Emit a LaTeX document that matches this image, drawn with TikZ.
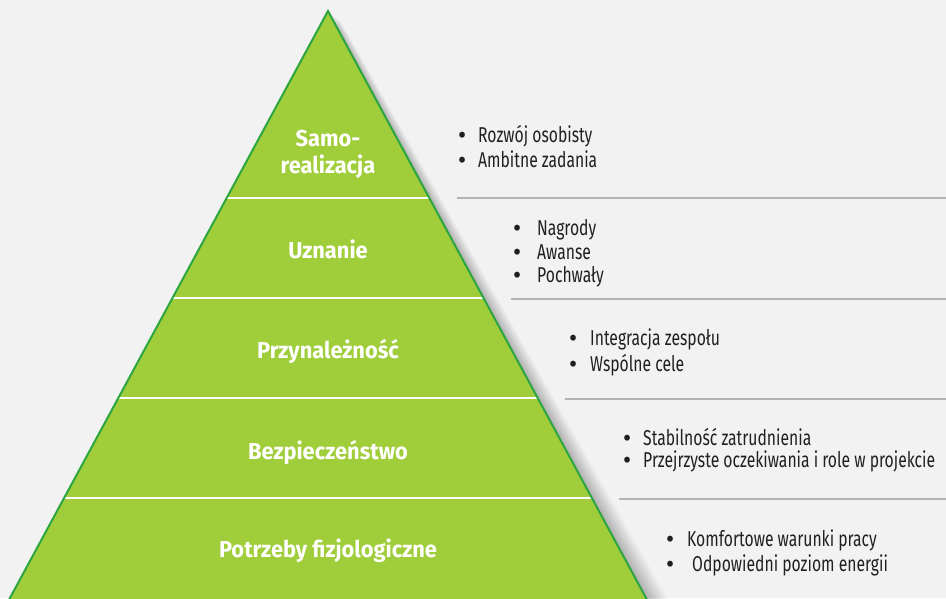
\documentclass[tikz,border=0pt]{standalone}
\usepackage{fontspec}
\usetikzlibrary{calc}
\setmainfont{Fira Sans}
\newfontfamily\itemfont{Fira Sans}[FakeStretch=0.73]
\newfontfamily\labfont{Fira Sans Bold}[FakeStretch=0.95]
\definecolor{bgc}{RGB}{242,242,242}
\definecolor{pyrfill}{RGB}{160,205,58}
\definecolor{pyredge}{RGB}{45,165,65}
\definecolor{txt}{RGB}{35,31,32}
\definecolor{rule}{RGB}{180,180,180}
\newcommand{\bul}{{\labfont •}}
\begin{document}
\begin{tikzpicture}[x=1pt,y=-1pt,
  lab/.style={text=white,font=\labfont\fontsize{23}{26.5}\selectfont,align=center,inner sep=0pt,anchor=base},
  itm/.style={text=txt,font=\itemfont\fontsize{21.5}{21.5}\selectfont,anchor=base west,inner sep=0pt},
  sep/.style={draw=rule,line width=1.5pt}]
\fill[bgc] (0,0) rectangle (946,598);
\useasboundingbox (0,0) rectangle (946,598);
\begin{scope}
\clip (0,0) rectangle (946,598);
% shadow
\foreach \i in {1,...,22}{
  \fill[black,opacity=0.012] ($(328,11)+(\i*0.6,\i*0.5)$) -- ($(-2,620)+(\i,0)$) -- ($(658,620)+(\i,0)$) -- cycle;
}
\fill[pyrfill] (328,11) -- (-2,620) -- (658,620) -- cycle;
\begin{scope}
\clip (328,11) -- (-2,620) -- (658,620) -- cycle;
\foreach \y in {198,298,398,498}{
  \draw[white,line width=2.2pt] (0,\y) -- (946,\y);
}
\end{scope}
\draw[pyredge,line width=2pt,line join=miter] (-2,620) -- (328,11) -- (658,620);
\end{scope}
% separators right
\coordinate (s1a) at (457,198); \coordinate (s1b) at (946,198);
\coordinate (s2a) at (511,299); \coordinate (s2b) at (946,299);
\coordinate (s3a) at (565,399); \coordinate (s3b) at (946,399);
\coordinate (s4a) at (619,499); \coordinate (s4b) at (946,499);
\draw[sep] (s1a) -- (s1b);
\draw[sep] (s2a) -- (s2b);
\draw[sep] (s3a) -- (s3b);
\draw[sep] (s4a) -- (s4b);
% labels
\node[lab] (l1) at (328,173) {Samo-\\realizacja};
\node[lab] (l2) at (328,258) {Uznanie};
\node[lab] (l3) at (328,358) {Przynależność};
\node[lab] (l4) at (328,459) {Bezpieczeństwo};
\node[lab] (l5) at (328,557) {Potrzeby fizjologiczne};
% items
\node[itm] (a1) at (446,142) {\makebox[32pt][c]{\bul}Rozwój osobisty};
\node[itm] (a2) at (446,167) {\makebox[32pt][c]{\bul}Ambitne zadania};
\node[itm] (b1) at (497,235) {\makebox[40pt][c]{\bul}Nagrody};
\node[itm] (b2) at (497,259) {\makebox[40pt][c]{\bul}Awanse};
\node[itm] (b3) at (497,282) {\makebox[40pt][c]{\bul}Pochwały};
\node[itm] (c1) at (556,345) {\makebox[34pt][c]{\bul}Integracja zespołu};
\node[itm] (c2) at (556,371.5) {\makebox[34pt][c]{\bul}Wspólne cele};
\node[itm] (d1) at (611,445) {\makebox[32pt][c]{\bul}Stabilność zatrudnienia};
\node[itm] (d2) at (611,467) {\makebox[32pt][c]{\bul}Przejrzyste oczekiwania i role w projekcie};
\node[itm] (e1) at (653,546) {\makebox[34pt][c]{\bul}Komfortowe warunki pracy};
\node[itm] (e2) at (648,571.5) {\makebox[44pt][c]{\bul}Odpowiedni poziom energii};
\end{tikzpicture}
\end{document}
